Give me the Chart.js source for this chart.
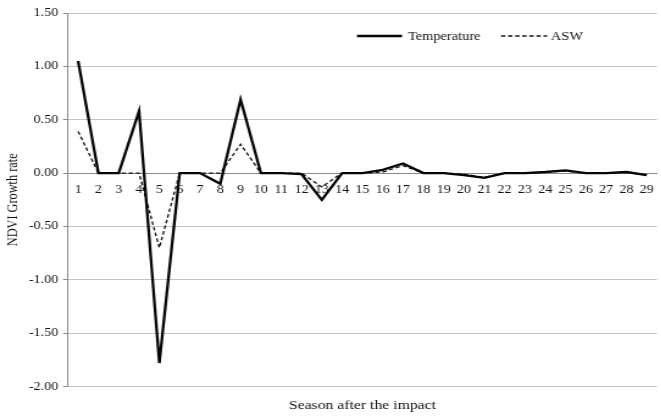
<!DOCTYPE html>
<html>
<head>
<meta charset="utf-8">
<script src="https://cdn.jsdelivr.net/npm/chart.js@4.4.1/dist/chart.umd.min.js"></script>
<style>
  html, body { margin: 0; padding: 0; background: #fff; overflow: hidden; width: 661px; height: 416px; }
  #wrap { width: 546px; height: 416px; transform: scaleX(1.22); transform-origin: 0 0; }
  canvas { display: block; }
</style>
</head>
<body>
<div id="wrap"><canvas id="chart" width="546" height="416"></canvas></div>
<script>
// Seasons after the impact (category axis)
const seasons = ['1','2','3','4','5','6','7','8','9','10','11','12','13','14','15',
                 '16','17','18','19','20','21','22','23','24','25','26','27','28','29'];

// NDVI growth rate explained by temperature
const temperature = [1.05, 0, 0, 0.58, -1.78, 0, 0, -0.10, 0.69, 0, 0, -0.01, -0.25, 0, 0,
                     0.03, 0.09, 0, 0, -0.02, -0.045, 0, 0, 0.01, 0.025, 0, 0, 0.01, -0.02];

// NDVI growth rate explained by available soil water
const asw = [0.39, 0, 0, 0, -0.70, 0, 0, 0, 0.27, 0, 0, 0, -0.13, 0, 0,
             0.01, 0.07, 0, 0, -0.01, -0.04, 0, 0, 0.01, 0.02, 0, 0, 0.01, -0.02];

// Value axis range
const yMin = -2.0;
const yMax = 1.5;
const yStep = 0.5;

const seriesNames = ['Temperature', 'ASW'];

const serif = '"Liberation Serif", "Times New Roman", serif';
const textColor = '#111111';

// Legend drawn inside the plot, upper right
const innerLegend = {
  id: 'innerLegend',
  afterDraw(chart) {
    const ctx = chart.ctx;
    const y = 36;
    const items = [
      { ds: chart.data.datasets[0], x0: 292.6, x1: 329.5, tx: 334.4 },
      { ds: chart.data.datasets[1], x0: 410.7, x1: 448.4, tx: 451.6 }
    ];
    ctx.save();
    ctx.font = '11.8px ' + serif;
    ctx.textBaseline = 'middle';
    ctx.fillStyle = textColor;
    for (const it of items) {
      ctx.beginPath();
      ctx.strokeStyle = it.ds.borderColor;
      ctx.lineWidth = it.ds.borderWidth;
      ctx.setLineDash(it.ds.borderDash || []);
      ctx.moveTo(it.x0, y);
      ctx.lineTo(it.x1, y);
      ctx.stroke();
      ctx.setLineDash([]);
      ctx.fillText(it.ds.label, it.tx, y + 0.5);
    }
    ctx.restore();
  }
};

new Chart(document.getElementById('chart'), {
  type: 'line',
  data: {
    labels: seasons,
    datasets: [
      {
        label: seriesNames[0],
        data: temperature,
        borderColor: '#050505',
        borderWidth: 2.3,
        pointRadius: 0,
        tension: 0,
        fill: false
      },
      {
        label: seriesNames[1],
        data: asw,
        borderColor: '#101010',
        borderWidth: 1.3,
        borderDash: [3.5, 2.3],
        pointRadius: 0,
        tension: 0,
        fill: false
      }
    ]
  },
  options: {
    responsive: false,
    animation: false,
    events: [],
    layout: { padding: { top: 13, right: 0, bottom: 0, left: 0 } },
    plugins: {
      legend: { display: false },
      tooltip: { enabled: false },
      title: {
        display: true,
        text: 'Season after the impact',
        position: 'bottom',
        fullSize: false,
        color: textColor,
        font: { family: serif, size: 12.9, weight: 'normal' },
        padding: { top: 11, bottom: 3 }
      }
    },
    scales: {
      x: {
        type: 'category',
        position: { y: 0 },
        offset: true,
        grid: { display: true, drawOnChartArea: false, drawTicks: false },
        border: { display: true, color: '#8a8a8a', width: 1 },
        ticks: {
          color: textColor,
          font: { family: serif, size: 11.5 },
          padding: 10,
          maxRotation: 0,
          autoSkip: false
        }
      },
      y: {
        min: yMin,
        max: yMax,
        grid: { color: '#c4c4c4', lineWidth: 1, tickLength: 4, tickColor: '#8a8a8a' },
        border: { display: true, color: '#8a8a8a', width: 1 },
        ticks: {
          stepSize: yStep,
          color: textColor,
          font: { family: serif, size: 11.5 },
          padding: 4,
          callback: (v) => Number(v).toFixed(2)
        },
        title: {
          display: true,
          text: 'NDVI Growth rate',
          color: textColor,
          font: { family: serif, size: 12.3, weight: 'normal' },
          padding: { top: 3.5, bottom: 0 }
        },
        afterFit(scale) { scale.width = 55.7; }
      }
    }
  },
  plugins: [innerLegend]
});
</script>
</body>
</html>
